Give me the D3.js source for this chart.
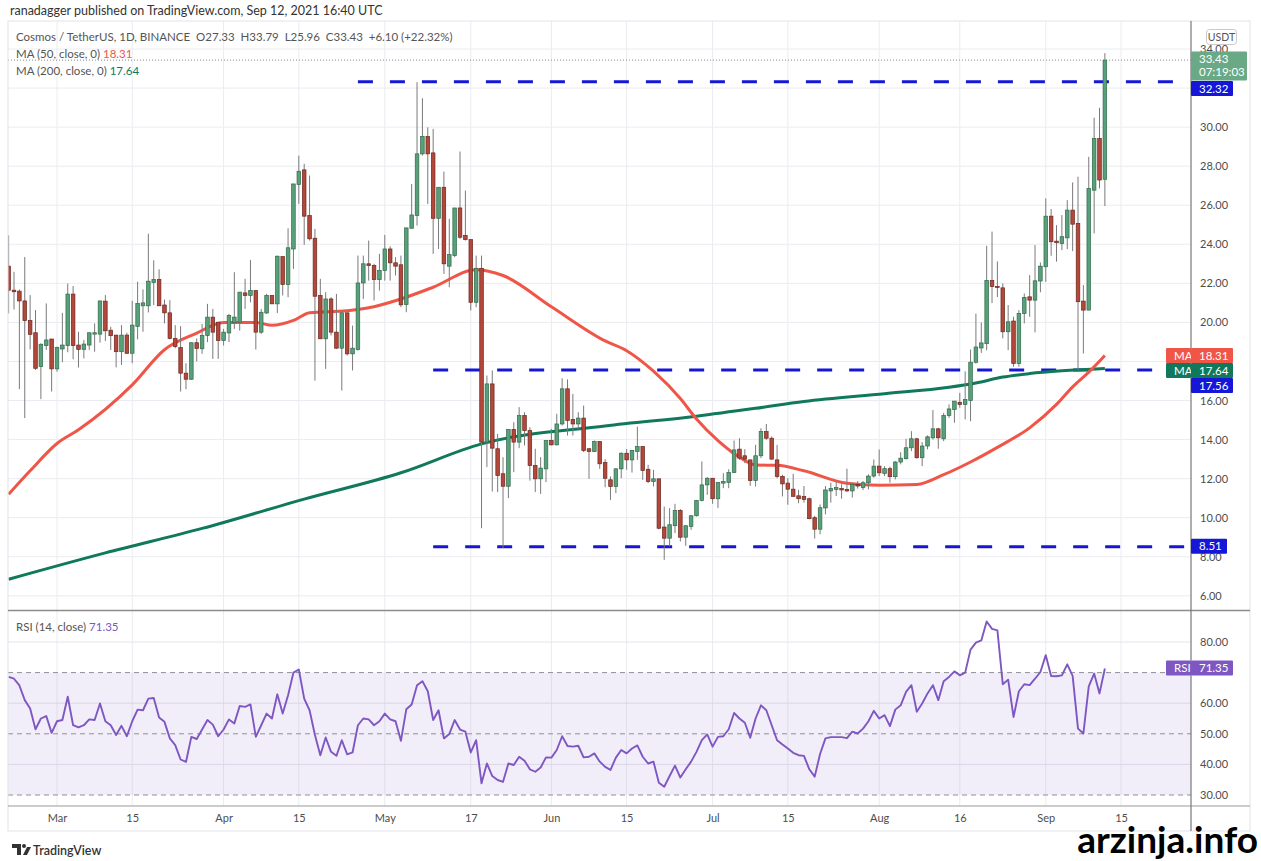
<!DOCTYPE html>
<html>
<head>
<meta charset="utf-8">
<script src="https://cdnjs.cloudflare.com/ajax/libs/d3/7.8.5/d3.min.js"></script>
<style>
	body {margin: 0; background: #fff;}
	svg text {font-family: "Lato", "Noto Sans", sans-serif;}
</style>
</head>
<body>
<svg id="chart" width="1261" height="861"></svg>
<script>
// ---- data (daily candles Feb 20 .. Sep 12, 2021) ----
const firstDay = "2021-02-20"

const opens = [
	22.88,21.65,21.60,21.10,20.09,19.47,17.74,18.81,19.15,17.62,18.64,18.81,21.45,18.84,18.62,18.84,19.40,19.40,21.09,19.60,
	19.35,18.50,19.35,18.42,19.80,20.85,20.85,22.04,22.20,20.89,20.49,19.18,18.71,17.40,17.09,18.96,18.65,19.33,20.27,20.01,
	19.07,19.46,19.98,20.01,21.51,21.38,21.63,19.50,20.48,21.38,20.95,23.37,21.94,23.76,27.06,27.81,25.47,24.31,21.38,19.16,
	21.20,19.50,18.68,20.49,18.39,18.61,22.02,23.00,22.91,22.19,22.66,23.76,23.05,22.95,20.91,24.82,25.47,28.63,29.52,28.68,
	25.33,26.92,22.88,23.42,25.86,24.45,24.24,21.03,22.77,13.87,16.85,13.53,12.25,11.61,14.52,13.87,15.23,14.46,12.67,11.99,
	12.50,13.95,13.73,14.80,16.60,15.03,14.80,15.10,13.53,13.39,13.90,12.83,11.94,11.60,12.50,13.30,12.96,13.39,13.64,12.48,
	11.85,11.99,9.52,8.95,9.59,10.37,9.00,9.55,10.10,10.88,11.68,12.02,10.97,11.77,11.80,12.31,13.51,13.17,12.96,11.90,
	13.17,14.41,14.07,12.96,12.11,11.77,11.46,11.12,11.08,10.97,10.00,9.41,10.50,11.37,11.45,11.49,11.45,11.37,11.71,11.54,
	11.79,12.13,12.64,12.27,12.51,12.10,12.85,13.02,13.58,14.04,13.07,13.67,14.09,14.55,14.04,15.23,15.54,15.91,15.80,16.00,
	17.96,18.69,18.91,22.15,21.84,21.77,19.52,20.07,17.90,20.46,21.31,21.14,22.12,22.85,25.44,24.16,24.04,24.33,25.75,25.07,
	21.09,20.63,26.77,29.42,27.33
]
const highs = [
	24.46,22.59,21.69,23.35,21.40,20.63,18.93,20.97,19.15,18.76,20.49,21.99,21.86,19.52,19.10,19.47,19.95,21.10,21.40,19.78,
	19.35,19.86,19.47,21.10,22.08,21.69,24.54,23.18,22.72,21.17,21.14,19.86,19.81,17.91,18.96,19.18,19.92,20.95,20.69,20.01,
	19.67,20.44,22.57,21.55,22.23,23.20,21.63,20.69,21.46,21.38,23.42,23.37,24.82,27.09,28.54,28.12,27.52,24.79,22.23,21.55,
	21.29,21.46,20.49,20.49,19.84,23.42,23.42,24.19,23.00,23.51,24.48,23.90,23.34,23.42,24.84,27.09,32.30,31.48,29.99,29.91,
	26.92,27.72,25.30,25.86,28.75,26.75,24.24,23.42,23.42,17.28,17.54,14.29,13.10,14.52,14.89,15.66,15.40,14.63,13.53,13.10,
	13.95,14.55,15.32,17.14,17.08,16.34,15.40,15.74,13.56,13.95,13.90,13.00,12.11,12.54,13.34,13.51,13.47,14.66,13.64,12.71,
	12.45,11.99,10.57,10.49,10.71,10.44,9.59,10.10,10.91,12.88,12.08,12.02,11.80,12.28,12.48,13.95,14.07,13.51,12.96,13.73,
	14.58,14.80,14.16,13.73,12.20,12.02,12.25,11.43,11.62,11.03,10.09,10.68,11.62,11.79,11.83,11.71,12.51,11.79,11.88,11.88,
	12.22,12.98,13.49,12.64,12.61,12.90,13.35,14.04,14.43,14.09,13.87,14.21,15.51,14.60,15.37,15.80,15.97,16.39,17.50,18.61,
	20.45,20.00,23.92,24.65,23.12,22.00,20.89,20.29,20.63,21.48,22.42,23.96,23.07,26.35,25.80,24.98,25.50,26.26,27.17,27.46,
	21.91,28.48,30.48,30.99,33.79
]
const lows = [
	20.46,20.66,16.58,15.10,18.62,17.57,16.07,18.59,16.46,17.48,17.96,18.47,18.11,17.69,18.16,18.59,18.50,18.96,19.05,18.59,
	17.70,17.82,18.38,17.91,19.13,19.52,20.51,20.89,20.85,19.95,19.13,18.67,16.46,16.58,17.06,18.00,18.39,18.99,18.13,18.13,
	18.82,18.99,19.67,19.58,20.69,21.03,18.61,19.41,20.44,20.95,20.48,21.38,21.29,22.74,26.07,23.97,24.19,17.02,19.16,17.62,
	19.33,18.65,16.51,18.30,17.54,18.56,21.20,22.14,21.12,21.63,22.14,22.14,22.40,20.78,20.52,24.82,24.96,28.54,26.07,23.51,
	23.76,22.48,21.80,23.34,24.28,24.19,20.61,20.78,9.46,12.59,11.34,11.31,8.44,11.00,12.33,13.56,13.70,11.90,11.31,11.22,
	11.82,13.70,13.70,14.72,14.21,14.21,14.55,13.36,11.99,13.36,12.50,11.56,10.91,11.26,12.02,12.45,12.31,12.96,11.94,11.77,
	11.60,9.40,7.84,8.53,9.21,8.78,8.56,9.38,10.06,10.83,11.17,10.71,10.49,11.51,11.51,12.28,12.96,12.79,11.63,11.60,
	13.05,13.99,12.96,12.02,11.09,10.66,11.09,10.74,10.77,9.92,8.93,9.15,10.17,10.77,11.11,10.97,11.32,11.03,11.49,11.42,
	11.45,12.05,12.13,12.13,11.79,11.96,12.73,12.98,13.41,13.02,12.64,13.50,14.00,13.53,13.92,15.11,14.86,15.63,15.03,14.94,
	17.89,18.44,18.57,20.99,21.30,19.18,18.58,17.73,17.73,19.95,20.29,19.49,21.54,22.08,23.41,23.11,23.70,23.75,23.65,17.56,
	18.41,20.63,24.56,26.86,25.96
]
const closes = [
	21.65,21.57,21.10,20.09,19.39,17.65,18.88,19.10,17.62,18.71,18.84,21.45,18.81,18.62,18.89,19.47,19.47,21.10,19.57,19.32,
	18.50,19.35,18.42,19.86,20.97,21.00,22.11,22.20,20.85,20.49,19.18,18.76,17.40,17.09,18.96,18.67,19.33,20.27,19.50,19.07,
	19.50,20.35,20.27,21.55,21.38,21.63,19.50,20.52,21.38,20.95,23.39,21.94,23.82,27.09,27.74,25.44,24.28,21.34,19.16,21.20,
	19.50,18.68,20.49,18.39,18.68,22.02,23.00,22.91,22.19,22.66,23.76,23.05,22.88,20.90,24.84,25.50,28.63,29.52,28.63,25.33,
	26.92,23.00,23.47,25.86,24.36,24.24,21.03,22.77,13.87,16.85,13.56,12.16,11.61,14.52,13.87,15.23,14.46,12.67,11.99,12.54,
	13.95,13.73,14.80,16.60,14.98,14.80,15.10,13.44,13.39,13.90,12.76,12.02,11.60,12.50,13.30,12.96,13.44,13.64,12.42,11.85,
	11.99,9.46,8.95,9.64,10.37,9.00,9.59,10.10,10.88,11.68,12.02,10.97,11.80,11.85,12.31,13.47,13.05,13.00,11.90,13.17,
	14.41,14.07,13.00,12.11,11.73,11.46,11.09,10.97,10.94,9.95,9.41,10.51,11.42,11.49,11.54,11.42,11.37,11.71,11.62,11.79,
	12.13,12.64,12.30,12.51,12.10,12.85,13.05,13.58,14.04,13.07,13.67,14.14,14.55,14.09,15.23,15.57,15.97,15.80,16.05,17.96,
	18.74,18.95,22.15,21.84,21.79,19.52,20.03,17.90,20.46,21.28,21.14,22.13,22.88,25.44,24.13,24.08,24.39,25.75,25.03,21.06,
	20.63,26.86,29.42,27.29,33.43
]

const rsi = [
	68.6,68.0,65.8,61.0,58.3,51.5,55.0,55.8,50.3,54.1, 54.5,62.1,52.8,52.1,52.8,54.7,54.5,59.9,54.1,52.8,
	49.6,52.6,49.2,54.1,57.9,57.7,61.5,61.7,55.3,53.9, 48.5,46.3,41.6,40.8,49.0,48.3,51.4,54.5,53.0,49.2,
	51.4,54.7,53.4,59.1,58.8,59.6,49.0,52.8,56.6,55.0, 62.9,56.6,62.6,70.0,71.0,61.5,57.7,49.6,43.0,48.8,
	44.1,42.8,47.9,43.3,43.9,52.8,55.0,54.7,52.8,54.1, 56.6,54.7,54.1,47.7,58.0,59.6,65.9,67.2,63.9,54.5,
	57.7,48.5,49.9,54.5,51.4,50.7,43.9,47.9,33.8,40.3, 36.2,34.9,34.3,40.3,39.8,42.5,41.2,38.4,37.6,39.0,
	42.3,42.2,44.7,49.2,46.0,45.8,46.1,42.3,42.5,43.6, 40.9,39.2,38.2,42.2,44.7,43.6,45.2,46.2,42.5,40.3,
	40.9,34.0,32.7,36.2,39.6,35.7,38.4,40.9,44.1,47.9, 49.8,45.8,49.0,49.2,51.5,56.8,55.0,53.6,48.7,55.0,
	59.3,57.7,52.8,47.9,46.5,45.2,43.8,43.0,42.8,38.4, 36.0,43.4,48.5,48.9,48.9,48.9,48.6,50.7,50.1,51.7,
	54.1,57.5,55.0,56.1,52.5,57.9,59.3,63.7,65.9,57.2, 59.9,63.2,65.9,61.0,67.2,68.6,70.4,69.1,70.0,77.5,
	79.8,80.5,86.7,84.3,83.8,66.2,67.7,55.5,63.9,66.2, 65.9,68.0,70.2,75.7,68.9,68.8,69.1,72.7,68.9,51.7,
	50.1,65.5,69.7,63.2,71.35
]

const ma50 = [
	["2021-02-20", 11.2], ["2021-02-24", 12.4], ["2021-03-01", 13.8], ["2021-03-05", 14.5], ["2021-03-15", 16.8],
	["2021-03-21", 18.6], ["2021-03-27", 19.45], ["2021-04-01", 20.0], ["2021-04-07", 20.0], ["2021-04-10", 19.85],
	["2021-04-14", 20.1], ["2021-04-17", 20.5], ["2021-04-24", 20.6], ["2021-04-28", 20.75], ["2021-05-04", 21.2],
	["2021-05-10", 21.8], ["2021-05-18", 22.7], ["2021-05-23", 22.4], ["2021-06-01", 20.8], ["2021-06-11", 19.05],
	["2021-06-15", 18.55], ["2021-06-20", 17.5], ["2021-06-25", 16.1], ["2021-06-28", 15.05], ["2021-07-02", 13.95],
	["2021-07-06", 13.1], ["2021-07-09", 12.7], ["2021-07-13", 12.68], ["2021-07-18", 12.4], ["2021-07-26", 11.76],
	["2021-08-01", 11.66], ["2021-08-08", 11.7], ["2021-08-13", 12.2], ["2021-08-18", 12.85], ["2021-08-23", 13.6],
	["2021-08-29", 14.6], ["2021-09-03", 15.8], ["2021-09-06", 16.7], ["2021-09-09", 17.45], ["2021-09-12", 18.31],
]
const ma200 = [
	["2021-02-20", 6.85], ["2021-03-10", 8.2], ["2021-03-28", 9.45], ["2021-04-16", 10.95], ["2021-05-04", 12.3],
	["2021-05-19", 13.78], ["2021-06-11", 14.7], ["2021-06-28", 15.2], ["2021-07-09", 15.6], ["2021-07-18", 15.95],
	["2021-08-02", 16.35], ["2021-08-14", 16.68], ["2021-08-19", 16.9], ["2021-08-24", 17.2], ["2021-08-29", 17.38],
	["2021-09-04", 17.52], ["2021-09-12", 17.64],
]

// horizontal levels drawn by the author: [price, from date]
const levels = [[32.32, "2021-04-26"], [17.56, "2021-05-10"], [8.51, "2021-05-10"]]

const priceTicks = [6, 8, 10, 12, 14, 16, 18, 20, 22, 24, 26, 28, 30, 32, 34]
const rsiTicks = [30, 40, 50, 60, 70, 80]
const tickDates = ["2021-03-01", "2021-03-15", "2021-04-01", "2021-04-15", "2021-05-01", "2021-05-17", "2021-06-01",
	"2021-06-15", "2021-07-01", "2021-07-15", "2021-08-01", "2021-08-16", "2021-09-01", "2021-09-15"]
const tickLabels = ["Mar", "15", "Apr", "15", "May", "17", "Jun", "15", "Jul", "15", "Aug", "16", "Sep", "15"]

// ---- layout ----
const plotL = 8, plotR = 1191, axisR = 1250
const mainTop = 21, mainBot = 610, rsiTop = 611, rsiBot = 806, frameBot = 831

const upFill = "#58a07a", upLine = "#2f6a4a", dnFill = "#b3473a", dnLine = "#6b2720"
const ma50Color = "#ef5648", ma200Color = "#11795b", levelColor = "#1616d8", rsiColor = "#7e57c2"

const parse = d3.utcParse("%Y-%m-%d")
const x = d3.scaleUtc().domain([parse("2021-03-01"), parse("2021-09-15")]).range([57, 1121])
const y = d3.scaleLinear().domain([6, 34]).range([595.8, 49])
const yr = d3.scaleLinear().domain([30, 80]).range([795, 642])

const start = parse(firstDay)
const candles = opens.map((o, i) => ({
	date: d3.utcDay.offset(start, i), o, h: highs[i], l: lows[i], c: closes[i], rsi: rsi[i],
}))

const svg = d3.select("#chart")
const defs = svg.append("defs")
defs.append("clipPath").attr("id", "mainClip").append("rect")
	.attr("x", plotL).attr("y", mainTop).attr("width", plotR - plotL).attr("height", mainBot - mainTop)
defs.append("clipPath").attr("id", "rsiClip").append("rect")
	.attr("x", plotL).attr("y", rsiTop).attr("width", plotR - plotL).attr("height", rsiBot - rsiTop)

svg.append("rect").attr("width", 1261).attr("height", 861).attr("fill", "#fff")

// publish line
svg.append("text").attr("x", 10).attr("y", 15).attr("font-size", 12.5).attr("fill", "#333")
	.text("ranadagger published on TradingView.com, Sep 12, 2021 16:40 UTC")

// ---- grid ----
const grid = svg.append("g")
grid.selectAll("line.h").data(priceTicks).join("line")
	.attr("x1", plotL).attr("x2", plotR).attr("y1", d => y(d)).attr("y2", d => y(d))
	.attr("stroke", "#eaecf1")
grid.selectAll("line.v").data(tickDates).join("line")
	.attr("x1", d => x(parse(d))).attr("x2", d => x(parse(d)))
	.attr("y1", mainTop).attr("y2", rsiBot).attr("stroke", "#eaecf1")

// rsi band + levels
svg.append("rect").attr("x", plotL).attr("width", plotR - plotL)
	.attr("y", yr(70)).attr("height", yr(30) - yr(70)).attr("fill", "#7e57c2").attr("fill-opacity", 0.1)
grid.selectAll("line.r").data([40, 60, 80]).join("line")
	.attr("x1", plotL).attr("x2", plotR).attr("y1", d => yr(d)).attr("y2", d => yr(d))
	.attr("stroke", "#e6e3ee")
svg.append("g").selectAll("line").data([30, 50, 70]).join("line")
	.attr("x1", plotL).attr("x2", plotR).attr("y1", d => yr(d)).attr("y2", d => yr(d))
	.attr("stroke", "#8f9098").attr("stroke-dasharray", "5,4")

// ---- main pane ----
const main = svg.append("g").attr("clip-path", "url(#mainClip)")

// last price dotted line
main.append("line").attr("x1", plotL).attr("x2", plotR)
	.attr("y1", y(closes[closes.length - 1])).attr("y2", y(closes[closes.length - 1]))
	.attr("stroke", "#8a8a8a").attr("stroke-dasharray", "1,2")

main.selectAll("line.level").data(levels).join("line").classed("level", true)
	.attr("x1", d => x(parse(d[1]))).attr("x2", plotR - 6)
	.attr("y1", d => y(d[0])).attr("y2", d => y(d[0]))
	.attr("stroke", levelColor).attr("stroke-width", 3).attr("stroke-dasharray", "15,17")

const maLine = d3.line().x(d => x(parse(d[0]))).y(d => y(d[1])).curve(d3.curveMonotoneX)
main.append("path").attr("d", maLine(ma200)).attr("fill", "none")
	.attr("stroke", ma200Color).attr("stroke-width", 3)
main.append("path").attr("d", maLine(ma50)).attr("fill", "none")
	.attr("stroke", ma50Color).attr("stroke-width", 3)

main.selectAll("line.wick").data(candles).join("line").classed("wick", true)
	.attr("x1", d => x(d.date)).attr("x2", d => x(d.date))
	.attr("y1", d => y(d.h)).attr("y2", d => y(d.l))
	.attr("stroke", "#7a7a7c").attr("stroke-width", 1)

const bodyW = 3.6
main.selectAll("rect.body").data(candles).join("rect").classed("body", true)
	.attr("x", d => x(d.date) - bodyW / 2).attr("width", bodyW)
	.attr("y", d => y(Math.max(d.o, d.c)))
	.attr("height", d => Math.max(1, Math.abs(y(d.o) - y(d.c))))
	.attr("fill", d => d.c >= d.o ? upFill : dnFill)
	.attr("stroke", d => d.c >= d.o ? upLine : dnLine).attr("stroke-width", 0.7)

// ---- rsi pane ----
const rsiG = svg.append("g").attr("clip-path", "url(#rsiClip)")
rsiG.append("path")
	.attr("d", d3.line().x(d => x(d.date)).y(d => yr(d.rsi))(candles))
	.attr("fill", "none").attr("stroke", rsiColor).attr("stroke-width", 1.9).attr("stroke-linejoin", "round")

// ---- frame ----
const frame = svg.append("g")
frame.append("rect").attr("x", plotL).attr("y", mainTop).attr("width", axisR - plotL).attr("height", frameBot - mainTop)
	.attr("fill", "none").attr("stroke", "#e0e3eb")
frame.append("line").attr("x1", plotL).attr("x2", axisR).attr("y1", mainBot + 0.5).attr("y2", mainBot + 0.5)
	.attr("stroke", "#8c8c8c").attr("stroke-width", 1.5)
frame.append("line").attr("x1", plotL).attr("x2", axisR).attr("y1", rsiBot).attr("y2", rsiBot)
	.attr("stroke", "#9a9a9a").attr("stroke-width", 1.2)
frame.append("line").attr("x1", plotR).attr("x2", plotR).attr("y1", mainTop).attr("y2", frameBot)
	.attr("stroke", "#777").attr("stroke-width", 1.2)

// ---- price tags on the scale (collected first so covered tick labels can be dropped) ----
const lastRsi = rsi[rsi.length - 1]
const tags = [
	{x: plotR, y: 51.5, w: 56, h: 29, fill: "#6aa985", lines: [d3.format(".2f")(closes[closes.length - 1]), "07:19:03"]},
	{x: plotR, y: 81, w: 42, h: 15, fill: levelColor, lines: [d3.format(".2f")(levels[0][0])]},
	{x: 1166, y: 348, w: 25, h: 15, fill: ma50Color, lines: ["MA"]},
	{x: plotR, y: 348, w: 42, h: 15, fill: ma50Color, lines: [d3.format(".2f")(ma50[ma50.length - 1][1])]},
	{x: 1166, y: 363, w: 25, h: 15, fill: ma200Color, lines: ["MA"]},
	{x: plotR, y: 363, w: 42, h: 15, fill: ma200Color, lines: [d3.format(".2f")(ma200[ma200.length - 1][1])]},
	{x: plotR, y: 378, w: 42, h: 15, fill: levelColor, lines: [d3.format(".2f")(levels[1][0])]},
	{x: plotR, y: y(levels[2][0]) - 8, w: 36, h: 15, fill: levelColor, lines: [d3.format(".2f")(levels[2][0])]},
	{x: 1166, y: yr(lastRsi) - 8, w: 25, h: 15, fill: rsiColor, lines: ["RSI"]},
	{x: plotR, y: yr(lastRsi) - 8, w: 42, h: 15, fill: rsiColor, lines: [d3.format(".2f")(lastRsi)]},
]
const covered = py => tags.some(t => t.x === plotR && py > t.y + 1 && py < t.y + t.h - 1)

// ---- axes ----
const axisFont = g => g.call(s => s.select(".domain").remove())
	.selectAll("text").attr("font-size", 11).attr("fill", "#4d4d4d")
	.attr("font-family", '"Lato", "Noto Sans", sans-serif')

svg.append("g").attr("transform", `translate(${plotR},0)`)
	.call(d3.axisRight(y).tickValues(priceTicks.filter(p => !covered(y(p))))
		.tickFormat(d3.format(".2f")).tickSize(0).tickPadding(9))
	.call(axisFont)
svg.append("g").attr("transform", `translate(${plotR},0)`)
	.call(d3.axisRight(yr).tickValues(rsiTicks.filter(v => !covered(yr(v))))
		.tickFormat(d3.format(".2f")).tickSize(0).tickPadding(9))
	.call(axisFont)
svg.append("g").attr("transform", `translate(0,${rsiBot})`)
	.call(d3.axisBottom(x).tickValues(tickDates.map(parse)).tickFormat((d, i) => tickLabels[i]).tickSize(0).tickPadding(8))
	.call(axisFont)

// USDT badge
svg.append("rect").attr("x", 1206.5).attr("y", 29.5).attr("width", 30).attr("height", 15).attr("rx", 3)
	.attr("fill", "#fff").attr("fill-opacity", 0.85).attr("stroke", "#c9c9c9")
svg.append("text").attr("x", 1221.5).attr("y", 41).attr("text-anchor", "middle")
	.attr("font-size", 10.5).attr("fill", "#555").text("USDT")

const tagG = svg.append("g").selectAll("g").data(tags).join("g")
tagG.append("rect").attr("x", d => d.x).attr("y", d => d.y).attr("width", d => d.w).attr("height", d => d.h)
	.attr("fill", d => d.fill).attr("rx", 1)
tagG.each(function(d) {
	d.lines.forEach((t, i) => {
		d3.select(this).append("text").attr("x", d.x + 8).attr("y", d.y + 11.5 + i * 13)
			.attr("font-size", 11.5).attr("fill", "#fff").text(t)
	})
})

// ---- legends ----
const leg = svg.append("g").attr("font-size", 11.5).attr("fill", "#555")
leg.append("text").attr("x", 16).attr("y", 41)
	.text("Cosmos / TetherUS, 1D, BINANCE  O27.33  H33.79  L25.96  C33.43  +6.10 (+22.32%)")
	.attr("xml:space", "preserve")
const l50 = leg.append("text").attr("x", 16).attr("y", 58)
l50.append("tspan").text("MA (50, close, 0) ")
l50.append("tspan").attr("fill", ma50Color).text(" 18.31")
const l200 = leg.append("text").attr("x", 16).attr("y", 75)
l200.append("tspan").text("MA (200, close, 0) ")
l200.append("tspan").attr("fill", ma200Color).text(" 17.64")
const lr = leg.append("text").attr("x", 16).attr("y", 631)
lr.append("tspan").text("RSI (14, close) ")
lr.append("tspan").attr("fill", rsiColor).text(" 71.35")

// ---- footer ----
const logo = svg.append("g").attr("transform", "translate(12,844)")
logo.append("path").attr("d", "M0,0 H9 V11 H5 V4 H0 Z").attr("fill", "#333")
logo.append("circle").attr("cx", 12).attr("cy", 2).attr("r", 2).attr("fill", "#333")
logo.append("path").attr("d", "M11,11 L15,3 H19 L15,11 Z").attr("fill", "#333")
svg.append("text").attr("x", 33).attr("y", 855).attr("font-size", 12.5).attr("fill", "#333")
	.attr("font-weight", 600).text("TradingView")

svg.append("text").attr("x", 1258).attr("y", 853).attr("text-anchor", "end")
	.attr("font-family", '"Liberation Sans", Arial, sans-serif').attr("font-weight", "bold")
	.attr("font-size", 37).attr("fill", "#000").text("arzinja.info")
</script>
</body>
</html>
